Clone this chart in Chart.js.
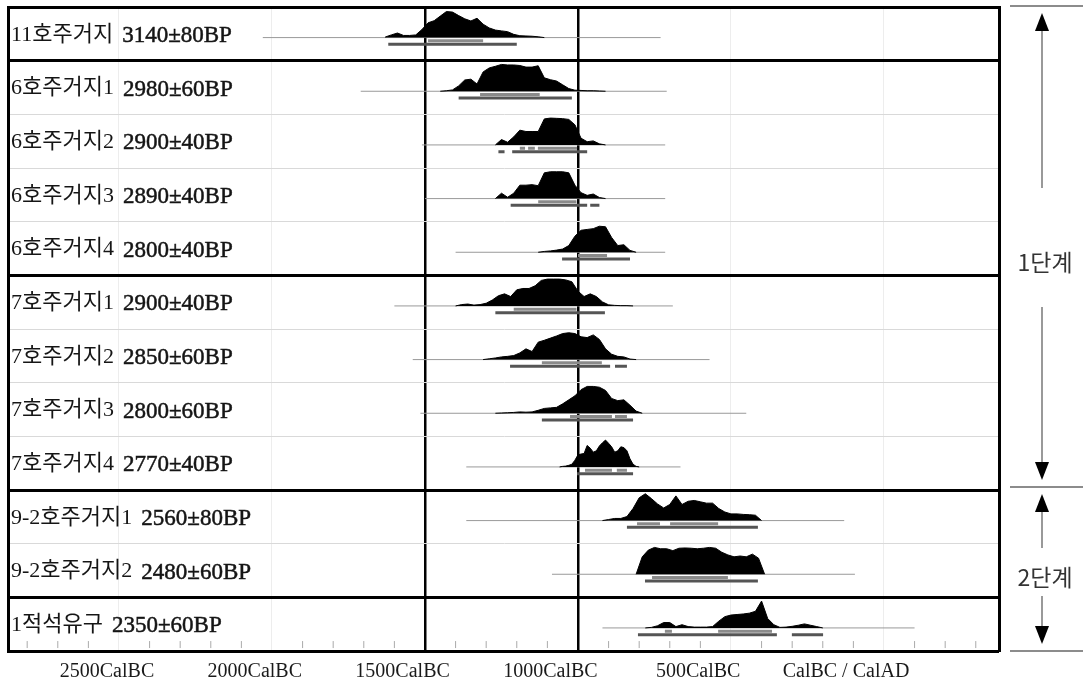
<!DOCTYPE html>
<html>
<head>
<meta charset="utf-8">
<script src="https://cdn.jsdelivr.net/npm/chart.js@4.4.1/dist/chart.umd.min.js"></script>
<style>
  html, body { margin: 0; padding: 0; background: #fff; }
</style>
</head>
<body>
<canvas id="myChart" width="1084" height="687"></canvas>
<script>
// rows, top to bottom
let names = ["11호주거지", "6호주거지1", "6호주거지2", "6호주거지3", "6호주거지4",
  "7호주거지1", "7호주거지2", "7호주거지3", "7호주거지4",
  "9-2호주거지1", "9-2호주거지2", "1적석유구"]
let dates = ["3140±80BP", "2980±60BP", "2900±40BP", "2890±40BP", "2800±40BP",
  "2900±40BP", "2850±60BP", "2800±60BP", "2770±40BP",
  "2560±80BP", "2480±60BP", "2350±60BP"]

// probability curves (relative height), first year and step in years (BC < 0)
let starts = [-1630, -1450, -1270, -1270, -1130, -1400, -1310, -1270, -1060, -920, -810, -780]
let steps = [20, 20, 20, 20, 20, 20, 20, 20, 10, 20, 20, 20]
let dens1 = [0.02,0.1,0.17,0.08,0.08,0.1,0.3,0.55,0.63,0.8,0.97,0.95,0.82,0.7,0.62,0.72,0.5,0.36,0.28,0.25,0.22,0.12,0.07,0.06,0.05,0.03,0]
let dens2 = [0,0.02,0.05,0.2,0.42,0.45,0.27,0.72,0.87,0.93,1.0,0.98,0.98,0.96,0.9,0.9,0.95,0.5,0.43,0.38,0.24,0.1,0.04,0.03,0.02,0.02,0.01,0]
let dens3 = [0,0.2,0.1,0.3,0.55,0.5,0.5,0.5,0.97,1.0,0.99,0.98,0.95,0.75,0.25,0.12,0.15,0.04,0]
let dens4 = [0,0.2,0.05,0.2,0.5,0.5,0.52,0.48,0.96,1.0,1.0,1.0,0.96,0.5,0.22,0.12,0.17,0.04,0]
let dens5 = [0,0.03,0.05,0.08,0.12,0.25,0.6,0.82,0.85,0.88,0.97,0.95,0.55,0.25,0.28,0.07,0]
let dens6 = [0,0.05,0.07,0.03,0.05,0.1,0.22,0.38,0.45,0.35,0.6,0.65,0.65,0.75,0.95,1.0,1.0,1.0,0.97,0.9,0.55,0.35,0.45,0.35,0.15,0.04,0.02,0.01,0.01,0]
let dens7 = [0,0.03,0.06,0.1,0.12,0.15,0.25,0.4,0.3,0.65,0.72,0.8,0.88,0.97,1.0,0.97,0.85,0.82,0.92,0.75,0.4,0.2,0.12,0.1,0.02,0]
let dens8 = [0,0.01,0.02,0.03,0.05,0.04,0.05,0.11,0.18,0.2,0.22,0.35,0.5,0.65,0.88,1.0,1.0,0.97,0.85,0.55,0.47,0.5,0.3,0.08,0]
let dens9 = [0,0.02,0.03,0.06,0.1,0.25,0.45,0.48,0.5,0.8,0.7,0.55,0.6,0.78,0.9,1.0,0.88,0.75,0.55,0.6,0.75,0.72,0.6,0.3,0.1,0.02,0]
let dens10 = [0,0.04,0.08,0.08,0.15,0.45,0.85,1.0,0.82,0.62,0.47,0.6,0.92,0.6,0.72,0.75,0.7,0.65,0.65,0.45,0.32,0.25,0.25,0.23,0.22,0.2,0]
let dens11 = [0,0.65,0.9,1.0,0.95,0.95,0.88,0.97,0.98,0.97,0.95,0.97,1.0,0.97,0.82,0.72,0.65,0.68,0.65,0.75,0.6,0]
let dens12 = [0,0.02,0.08,0.2,0.2,0.05,0.12,0.05,0.03,0.03,0.03,0.05,0.25,0.42,0.48,0.5,0.52,0.55,0.62,1.0,0.35,0.12,0.02,0.03,0.06,0.1,0.15,0.1,0.05,0]
let dens = [dens1, dens2, dens3, dens4, dens5, dens6, dens7, dens8, dens9, dens10, dens11, dens12]

// thin line extent, 68.2% and 95.4% ranges
let spans = [[-2030,-730], [-1710,-710], [-1510,-715], [-1500,-715], [-1400,-715], [-1600,-690],
  [-1540,-570], [-1515,-450], [-1365,-665], [-1365,-130], [-1085,-95], [-920,100]]
let sigma1 = [[[-1490,-1310]], [[-1320,-1125]], [[-1190,-1173],[-1163,-1141],[-1131,-1003]],
  [[-1130,-1005]], [[-1000,-905]], [[-1210,-1005]], [[-1118,-922]], [[-1026,-889],[-879,-840]],
  [[-977,-889],[-873,-840]], [[-807,-732],[-699,-542]], [[-758,-510]], [[-716,-693],[-542,-366]]]
let sigma2 = [[[-1620,-1200]], [[-1390,-1020]], [[-1260,-1240],[-1215,-970]],
  [[-1220,-970],[-960,-930]], [[-1052,-830]], [[-1270,-912]], [[-1222,-895],[-879,-840]],
  [[-1118,-820]], [[-1003,-820]], [[-840,-412]], [[-781,-412]], [[-804,-350],[-301,-199]]]

let axisYears = [-2500, -2000, -1500, -1000, -500, 0]
let axisLabels = ["2500CalBC", "2000CalBC", "1500CalBC", "1000CalBC", "500CalBC", "CalBC / CalAD"]
let markYears = [-1500, -1000]
let thickEdges = [0, 1, 5, 9, 11, 12]
let stages = ["1단계", "2단계"]
let stageEdges = [[0, 9], [9, 12]]

let tickYears = []
for (let t = -2800; t <= 300; t += 100) {
  if (!axisYears.includes(t)) tickYears.push(t)
}

const BASE = 0.57   // baseline inside a row
const PEAK = 0.5    // height of a full curve

let datasets = []
names.forEach((nm, i) => {
  let base = i + BASE
  datasets.push({
    data: spans[i].map(v => ({x: v, y: base})),
    borderColor: '#999', borderWidth: 1, pointRadius: 0, order: 3
  })
  datasets.push({
    data: dens[i].map((h, k) => ({x: starts[i] + k * steps[i], y: base - h * PEAK})),
    borderColor: '#000', borderWidth: 1, backgroundColor: '#000',
    fill: {value: base}, pointRadius: 0, order: 2
  })
  let bar = (segs, y) => segs.flatMap(s => [{x: s[0], y: y}, {x: s[1], y: y}, {x: s[1], y: null}])
  datasets.push({
    data: bar(sigma1[i], base + 0.06),
    borderColor: '#8a8a8a', borderWidth: 3, pointRadius: 0, order: 1
  })
  datasets.push({
    data: bar(sigma2[i], base + 0.125),
    borderColor: '#555', borderWidth: 3, pointRadius: 0, order: 1
  })
})
// small ticks along the bottom edge
datasets.push({
  data: tickYears.map(t => ({x: t, y: 11.88})),
  showLine: false, pointStyle: 'line', rotation: 90, radius: 3.5,
  borderColor: '#aaa', borderWidth: 1, order: 4
})

const rowText = {
  id: 'rowText',
  afterDraw(chart) {
    let ctx = chart.ctx
    let y = chart.scales.y
    ctx.save()
    ctx.textBaseline = 'middle'
    ctx.fillStyle = '#151515'
    ctx.strokeStyle = '#151515'
    ctx.lineWidth = 0.5
    names.forEach((nm, i) => {
      let py = y.getPixelForValue(i + 0.52)
      ctx.font = '22px "Liberation Serif", "Noto Sans CJK KR"'
      ctx.fillText(nm, 11, py)
      let w = ctx.measureText(nm).width
      ctx.font = '23px "Liberation Serif"'
      ctx.fillText(dates[i], 11 + w + 9, py + 1)
      ctx.strokeText(dates[i], 11 + w + 9, py + 1)
    })
    ctx.restore()
  }
}

const stageMarks = {
  id: 'stageMarks',
  afterDraw(chart) {
    let ctx = chart.ctx
    let y = chart.scales.y
    let ax = 1042
    let texts = [4.75, 10.62]
    let gapUp = [74, 29]
    let gapDown = [45, 19]
    ctx.save()
    let line = (x1, y1, x2, y2) => { ctx.beginPath(); ctx.moveTo(x1, y1); ctx.lineTo(x2, y2); ctx.stroke() }
    let head = (tip, dir) => {
      ctx.beginPath()
      ctx.moveTo(ax, tip)
      ctx.lineTo(ax - 7, tip + dir * 18)
      ctx.lineTo(ax + 7, tip + dir * 18)
      ctx.closePath()
      ctx.fill()
    }
    ctx.strokeStyle = '#8c8c8c'
    ctx.lineWidth = 2
    let edges = [0, 9, 12]
    edges.forEach(v => {
      let py = y.getPixelForValue(v) - 3
      if (v === 0) py = 6
      if (v === 12) py = 651
      line(1010, py, 1083, py)
    })
    stageEdges.forEach((e, k) => {
      let top = k === 0 ? 6 : y.getPixelForValue(e[0]) - 3
      let bot = k === 0 ? y.getPixelForValue(e[1]) - 3 : 651
      let ty = y.getPixelForValue(texts[k])
      ctx.fillStyle = '#000'
      head(top + 7, 1)
      head(bot - 7, -1)
      ctx.strokeStyle = '#777'
      ctx.lineWidth = 1.5
      line(ax, top + 25, ax, ty - gapUp[k])
      line(ax, ty + gapDown[k], ax, bot - 25)
      ctx.fillStyle = '#333'
      ctx.font = '23px "Noto Sans CJK KR"'
      ctx.textAlign = 'center'
      ctx.textBaseline = 'middle'
      ctx.fillText(stages[k], ax + 3, ty)
    })
    ctx.restore()
  }
}

let myChart = new Chart(document.getElementById('myChart'), {
  type: 'line',
  data: { datasets: datasets },
  options: {
    responsive: false,
    animation: false,
    devicePixelRatio: 1,
    layout: { padding: { left: 8, right: 85, top: 7, bottom: 0 } },
    plugins: { legend: { display: false }, tooltip: { enabled: false } },
    elements: { line: { tension: 0 } },
    scales: {
      x: {
        type: 'linear', position: 'top', min: -2862.7, max: 375.9,
        afterBuildTicks: s => { s.ticks = axisYears.map(v => ({value: v})) },
        ticks: { display: false },
        grid: {
          drawTicks: false,
          color: c => markYears.includes(c.tick.value) ? '#000' : '#ededed',
          lineWidth: c => markYears.includes(c.tick.value) ? 2.5 : 1
        },
        border: { display: false },
        afterFit: s => { s.height = 0 }
      },
      xl: {
        type: 'linear', position: 'bottom', min: -2834.9, max: 517.6,
        afterBuildTicks: s => { s.ticks = axisYears.map(v => ({value: v})) },
        ticks: {
          autoSkip: false, maxRotation: 0, padding: 9, color: '#1a1a1a',
          font: { family: 'Liberation Serif', size: 20 },
          callback: v => axisLabels[axisYears.indexOf(v)]
        },
        grid: { display: false, drawTicks: false },
        border: { display: false },
        afterFit: s => { s.height = 36 }
      },
      y: {
        type: 'linear', position: 'left', min: 0, max: 12, reverse: true,
        afterBuildTicks: s => { s.ticks = [0,1,2,3,4,5,6,7,8,9,10,11,12].map(v => ({value: v})) },
        ticks: { display: false },
        grid: {
          drawTicks: false,
          color: c => thickEdges.includes(c.tick.value) ? '#000' : '#d9d9d9',
          lineWidth: c => thickEdges.includes(c.tick.value) ? 3 : 1
        },
        border: { display: true, color: '#000', width: 3 },
        afterFit: s => { s.width = 0 }
      },
      yr: {
        type: 'linear', position: 'right', min: 0, max: 12, reverse: true,
        ticks: { display: false },
        grid: { display: false, drawTicks: false },
        border: { display: true, color: '#000', width: 3 },
        afterFit: s => { s.width = 0 }
      }
    }
  },
  plugins: [rowText, stageMarks]
})
</script>
</body>
</html>
